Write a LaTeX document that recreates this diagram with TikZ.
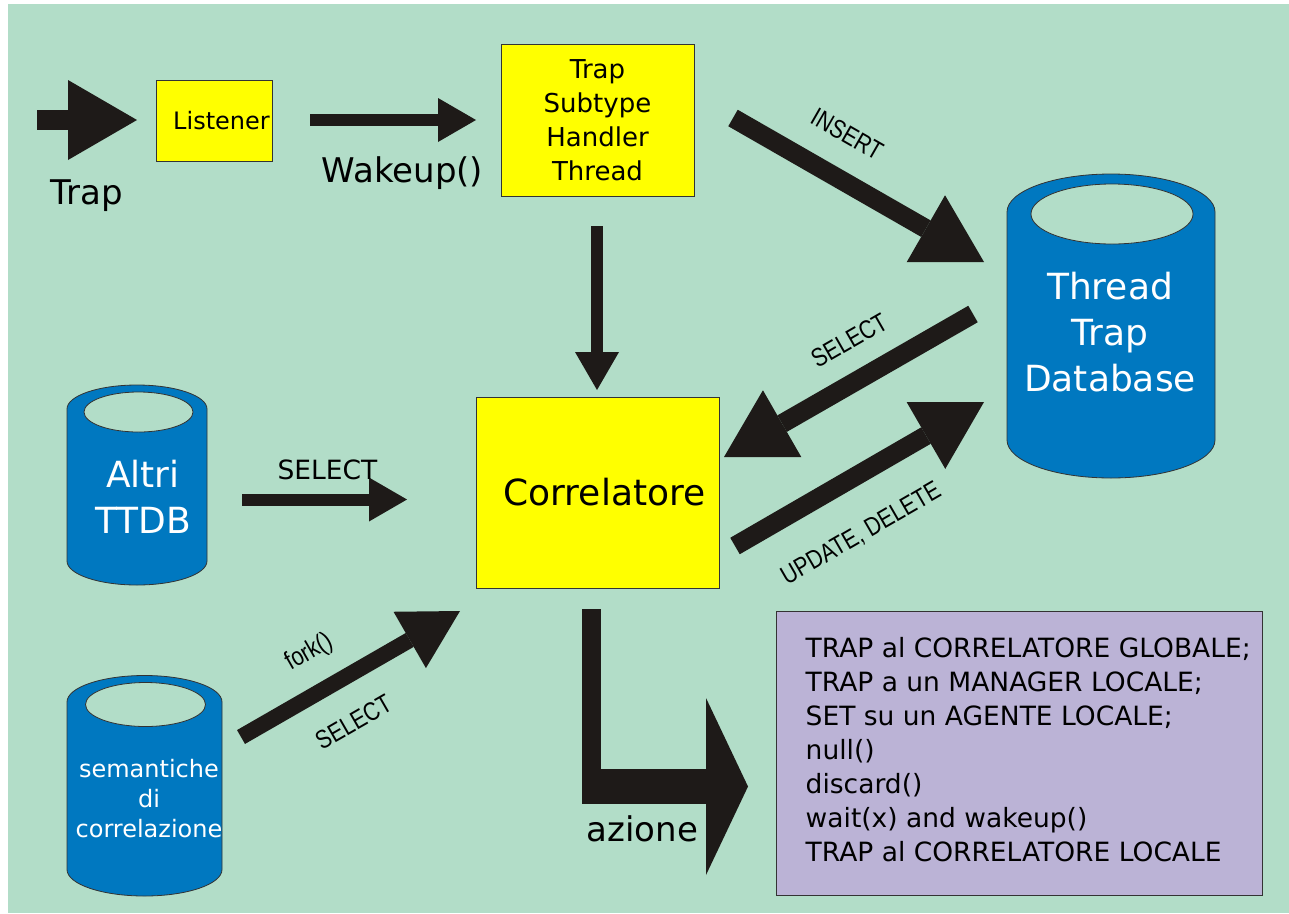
\documentclass[tikz,border=0pt]{standalone}
\usepackage{fontspec}
\setmainfont{DejaVu Sans}
\newfontfamily\narrowfont[FakeStretch=0.82]{Liberation Sans}
\usetikzlibrary{arrows.meta}
\definecolor{bggreen}{RGB}{178,221,200}
\definecolor{boxyellow}{RGB}{255,255,0}
\definecolor{dbblue}{RGB}{0,120,192}
\definecolor{actionlilac}{RGB}{187,179,214}
\definecolor{arrowblack}{RGB}{30,26,24}
\definecolor{edgegrey}{RGB}{51,51,51}
\pgfdeclarelayer{background}
\pgfdeclarelayer{edgelayer}
\pgfdeclarelayer{nodelayer}
\pgfsetlayers{background,edgelayer,nodelayer,main}
\tikzstyle{none}=[inner sep=0pt]
\tikzstyle{process}=[draw=edgegrey, line width=0.8pt, fill=boxyellow, inner sep=0pt]
\tikzstyle{database}=[text=white, align=center, inner sep=0pt]
\tikzstyle{cylbody}=[draw=edgegrey, line width=0.8pt, fill=dbblue]
\tikzstyle{cyltop}=[draw=edgegrey, line width=0.8pt, fill=bggreen]
\tikzstyle{actionbox}=[draw=edgegrey, line width=1pt, fill=actionlilac]
\tikzstyle{input}=[draw=arrowblack, line width=20pt, -{Triangle[length=69pt, width=80pt, line width=0pt]}]
\tikzstyle{slim}=[draw=arrowblack, line width=12pt, -{Triangle[length=38pt, width=44pt, line width=0pt]}]
\tikzstyle{fat}=[draw=arrowblack, line width=19pt, -{Triangle[length=67pt, width=77pt, line width=0pt]}]
\tikzstyle{forked}=[draw=arrowblack, line width=16pt, -{Triangle[length=58pt, width=65pt, line width=0pt]}]
\tikzstyle{stem}=[draw=arrowblack, line width=19pt]
\tikzstyle{branch}=[draw=arrowblack, line width=35pt, -{Triangle[length=42pt, width=177pt, line width=0pt]}]
\tikzstyle{biglabel}=[font=\fontsize{34}{40}\selectfont]
\tikzstyle{midlabel}=[font=\fontsize{26.5}{30}\selectfont]
\tikzstyle{sqlabel}=[font=\narrowfont\fontsize{26}{30}\selectfont, sloped]

\begin{document}
\begin{tikzpicture}[x=1pt, y=-1pt]
	\useasboundingbox (0, 0) rectangle (1289, 913);
	\begin{pgfonlayer}{background}
		\fill [bggreen] (8, 4) rectangle (1289, 913);
		\draw [style=cylbody] (1007, 212) -- (1007, 440) arc [start angle=180, end angle=360, x radius=104pt, y radius=38pt] -- (1215, 212) arc [start angle=0, end angle=180, x radius=104pt, y radius=38pt] -- cycle;
		\draw [style=cyltop] (1112, 214) ellipse [x radius=81pt, y radius=30pt];
		\draw [style=cylbody] (67, 409) -- (67, 561) arc [start angle=180, end angle=360, x radius=70pt, y radius=24pt] -- (207, 409) arc [start angle=0, end angle=180, x radius=70pt, y radius=24pt] -- cycle;
		\draw [style=cyltop] (138.5, 412) ellipse [x radius=54.5pt, y radius=20pt];
		\draw [style=cylbody] (67, 702) -- (67, 869.5) arc [start angle=180, end angle=360, x radius=77.5pt, y radius=26.5pt] -- (222, 702) arc [start angle=0, end angle=180, x radius=77.5pt, y radius=26.5pt] -- cycle;
		\draw [style=cyltop] (145.5, 704.5) ellipse [x radius=60pt, y radius=22pt];
	\end{pgfonlayer}
	\begin{pgfonlayer}{nodelayer}
		\node [style=process, minimum width=116pt, minimum height=81pt, font=\fontsize{24}{28}\selectfont] (0) at (214, 120.5) {\hspace*{15pt}Listener};
		\node [style=process, minimum width=193pt, minimum height=152pt, align=center, font=\fontsize{26}{34}\selectfont] (1) at (597.5, 120) {Trap\\Subtype\\Handler\\Thread};
		\node [style=process, minimum width=243pt, minimum height=191pt, font=\fontsize{36}{44}\selectfont] (2) at (597.5, 492.5) {\hspace*{14pt}Correlatore};
		\node [style=database, font=\fontsize{36}{46}\selectfont] (3) at (1110, 332) {Thread\\Trap\\Database};
		\node [style=database, font=\fontsize{36}{45.6}\selectfont] (4) at (143, 497) {Altri\\TTDB};
		\node [style=database, font=\fontsize{24}{30}\selectfont] (5) at (149, 799) {semantiche\\di\\correlazione};
		\node [style=actionbox, minimum width=486pt, minimum height=284pt] (9) at (1019, 753) {};
		\node [anchor=west, align=left, inner sep=0pt, font=\fontsize{26.5}{34}\selectfont] (10) at ([xshift=30pt, yshift=3pt]9.west) {TRAP al CORRELATORE GLOBALE;\\TRAP a un MANAGER LOCALE;\\SET su un AGENTE LOCALE;\\null()\\discard()\\wait(x) and wakeup()\\TRAP al CORRELATORE LOCALE};
		\node [style=biglabel, anchor=base west] (31) at (583, 841) {azione};
		\node [style=none] (11) at (37, 120) {};
		\node [style=none] (12) at (137, 120) {};
		\node [style=none] (13) at (310, 120) {};
		\node [style=none] (14) at (476, 120) {};
		\node [style=none] (15) at (597, 226) {};
		\node [style=none] (16) at (597, 390) {};
		\node [style=none] (17) at (733, 118) {};
		\node [style=none] (18) at (984, 262) {};
		\node [style=none] (19) at (973, 314) {};
		\node [style=none] (20) at (724, 457) {};
		\node [style=none] (21) at (735, 546) {};
		\node [style=none] (22) at (984, 402) {};
		\node [style=none] (23) at (242, 499.5) {};
		\node [style=none] (24) at (407, 499.5) {};
		\node [style=none] (25) at (241, 737) {};
		\node [style=none] (26) at (460, 611) {};
		\node [style=none] (27) at (591.5, 609) {};
		\node [style=none] (28) at (591.5, 786.5) {};
		\node [style=none] (29) at (582, 786.5) {};
		\node [style=none] (30) at (748, 786.5) {};
	\end{pgfonlayer}
	\begin{pgfonlayer}{edgelayer}
		\draw [style=input] (11.center) to node[style=biglabel, pos=0.5, below, inner sep=50pt]{Trap} (12.center);
		\draw [style=slim] (13.center) to node[style=biglabel, pos=0.557, below, inner sep=31pt]{Wakeup()} (14.center);
		\draw [style=slim] (15.center) to (16.center);
		\draw [style=fat] (17.center) to node[style=sqlabel, pos=0.37, above, inner sep=24pt]{INSERT} (18.center);
		\draw [style=fat] (19.center) to node[style=sqlabel, pos=0.42, above, inner sep=20pt]{SELECT} (20.center);
		\draw [style=fat] (21.center) to node[style=sqlabel, pos=0.40, below, inner sep=33pt]{UPDATE, DELETE} (22.center);
		\draw [style=slim] (23.center) to node[style=midlabel, pos=0.518, above, inner sep=13.5pt]{SELECT} (24.center);
		\draw [style=forked] (25.center) to node[style=sqlabel, pos=0.40, above, inner sep=19pt]{fork()} node[style=sqlabel, pos=0.415, below, inner sep=26pt]{SELECT} (26.center);
		\draw [style=stem] (27.center) to (28.center);
		\draw [style=branch] (29.center) to (30.center);
	\end{pgfonlayer}
\end{tikzpicture}
\end{document}
